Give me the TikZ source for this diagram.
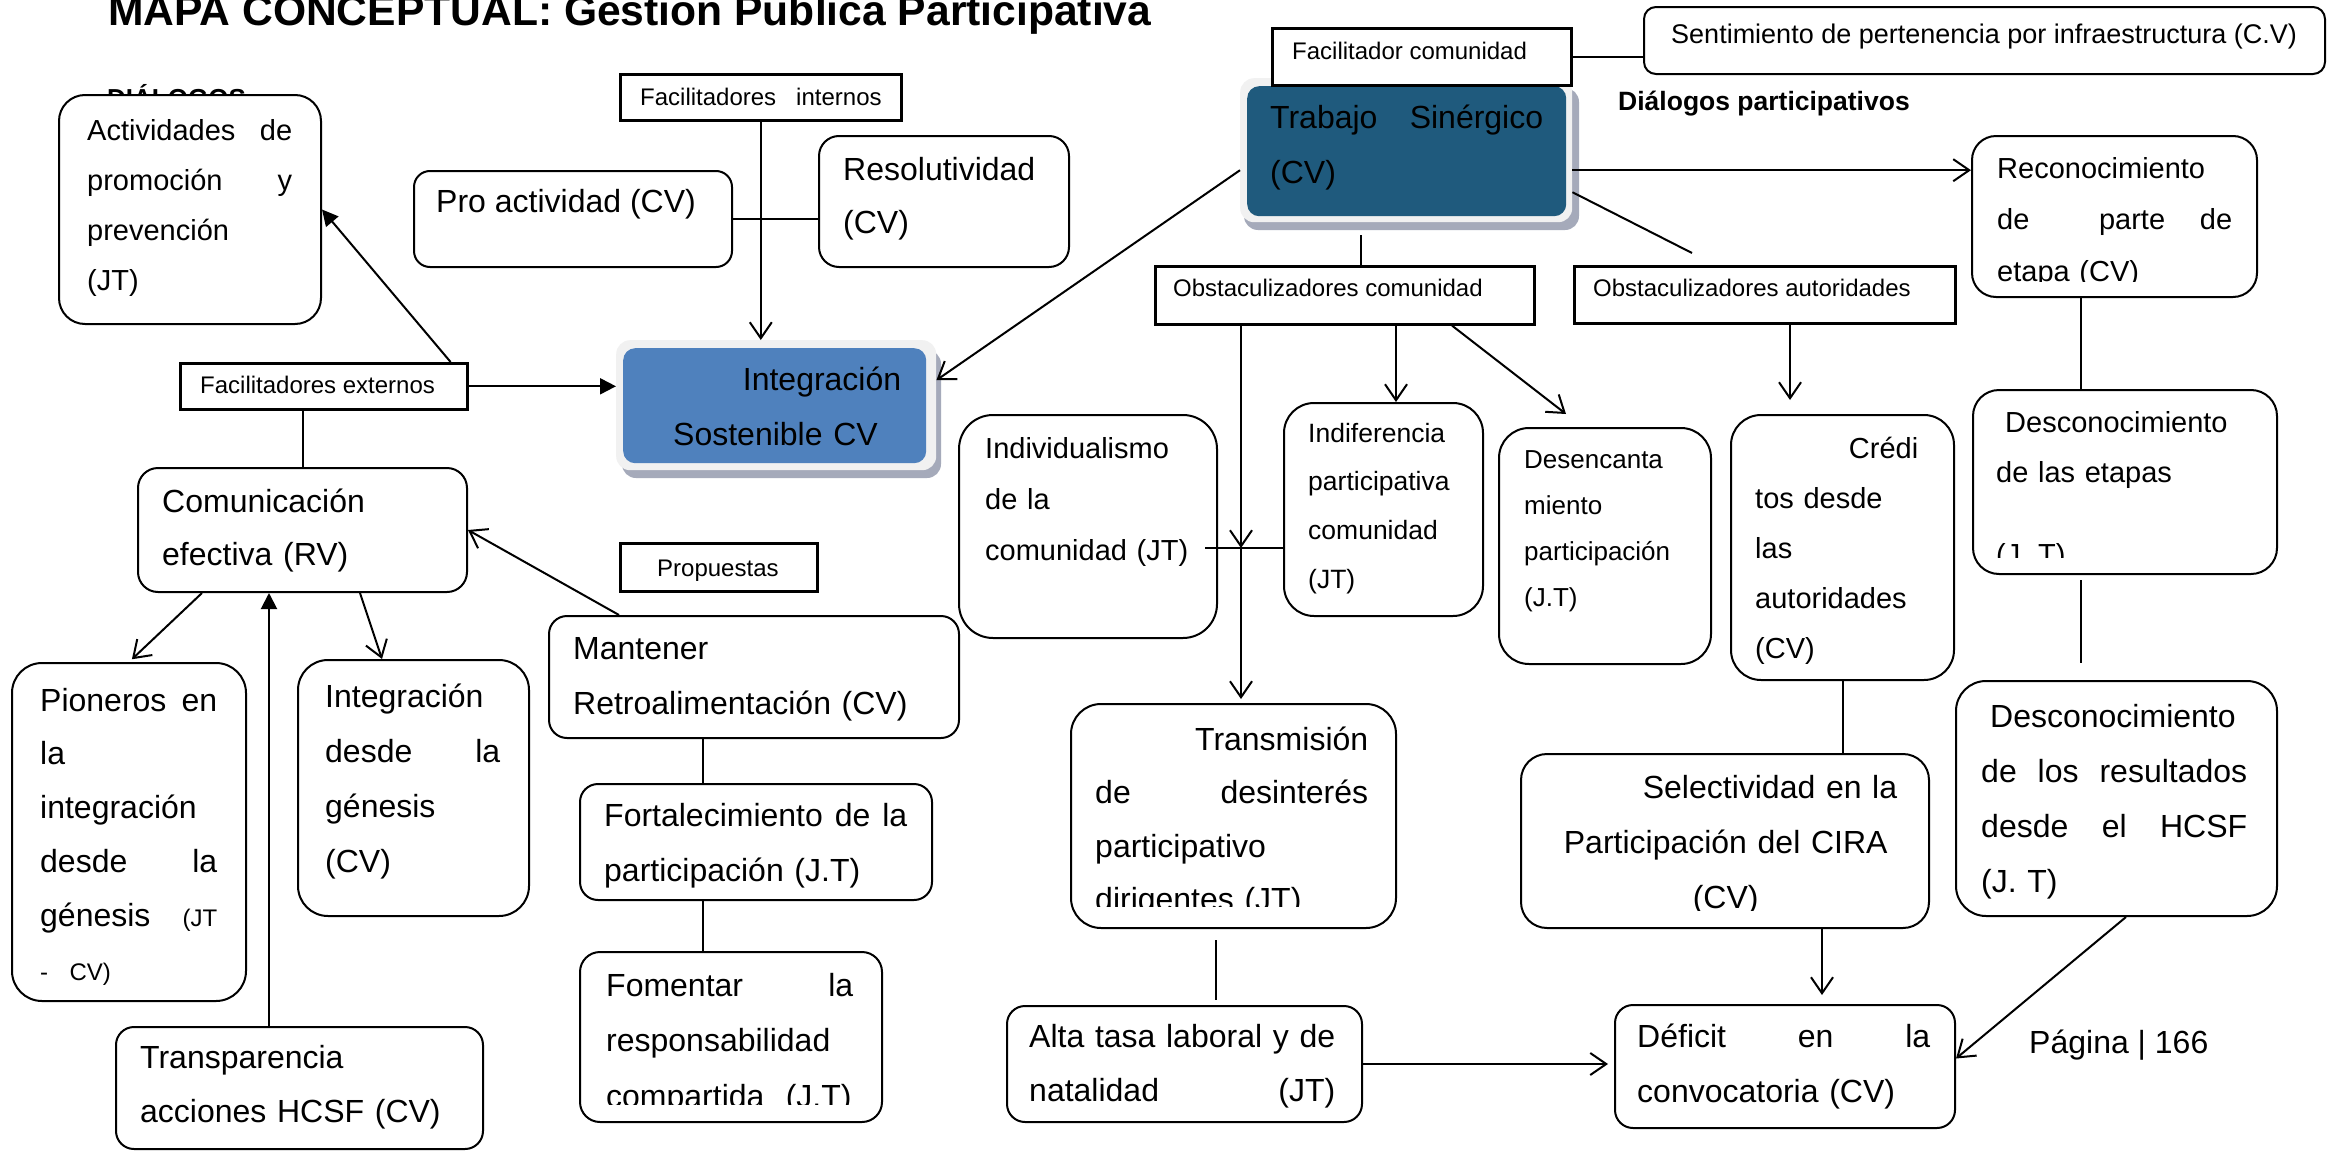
\documentclass[tikz,border=0pt]{standalone}
\usepackage{fontspec}
\setmainfont{Liberation Sans}
\usetikzlibrary{arrows.meta}

\definecolor{boxblue}{RGB}{79,129,189}
\definecolor{deepblue}{RGB}{31,90,125}
\definecolor{glowgray}{RGB}{241,241,241}
\definecolor{shadegray}{RGB}{165,170,186}

\newcommand\fs[2]{\fontsize{#1pt}{#2pt}\selectfont}

\tikzset{
  rbox/.style={draw, line width=2pt, fill=white, anchor=north west,
               inner sep=0pt, rounded corners=#1},
  rbox/.default=20pt,
  lbox/.style={draw, line width=2.6pt, fill=white, anchor=north west, inner sep=0pt},
  glow/.style={fill=glowgray, anchor=north west, inner sep=0pt, rounded corners=14pt},
  txt/.style={anchor=base west, inner sep=0pt, align=left},
  ln/.style={line width=2pt},
  oarr/.style={line width=2pt, -{Straight Barb[length=16pt,width=22pt]}},
  farr/.style={line width=2pt, -{Triangle[length=16pt,width=16pt]}},
}

\begin{document}
\begin{tikzpicture}[x=1pt, y=-1pt]
\fill[white] (0,0) rectangle (2343,1151);
\useasboundingbox (0,0) rectangle (2343,1151);

% ---------- headings ----------
\node[txt, font=\bfseries\fs{42.6}{50}] (title) at (108,25) {MAPA CONCEPTUAL: Gestion Publica Participativa};
\node[txt, font=\bfseries\fs{26}{30}] (dlg) at (107,107) {DIÁLOGOS};
\node[txt, font=\bfseries\fs{26.5}{30}] (dlgp) at (1618,110) {Diálogos participativos};
\node[txt, font=\fs{32}{36}] (page) at (2029,1053) {Página | 166};

% ---------- highlighted concepts ----------
\fill[shadegray, rounded corners=14pt] (622,350) rectangle (941,478);
\node[glow, minimum width=320pt, minimum height=130pt] (integ-g) at (616,340) {};
\node[fill=boxblue, anchor=north west, inner sep=0pt, rounded corners=12pt,
      minimum width=303pt, minimum height=115pt] (integ) at (623,348) {};

\fill[shadegray, rounded corners=14pt] (1244,88) rectangle (1579,230);
\node[glow, minimum width=332pt, minimum height=144pt] (trab-g) at (1240,78) {};
\node[fill=deepblue, anchor=north west, inner sep=0pt, rounded corners=12pt,
      minimum width=319pt, minimum height=130pt] (trab) at (1247,86) {};

% ---------- boxes ----------
\node[rbox=26pt, minimum width=262pt, minimum height=229pt] (act) at (58,94) {};
\node[rbox=16pt, minimum width=318pt, minimum height=96pt] (pro) at (413,170) {};
\node[rbox=20pt, minimum width=250pt, minimum height=131pt] (res) at (818,135) {};
\node[lbox, minimum width=281pt, minimum height=46pt] (fi) at (619,73) {};
\node[lbox, minimum width=299pt, minimum height=57pt] (fc) at (1271,27) {};
\node[rbox=12pt, minimum width=681pt, minimum height=67pt] (sent) at (1643,6) {};
\node[rbox=24pt, minimum width=285pt, minimum height=161pt] (rec) at (1971,135) {};
\node[lbox, minimum width=379pt, minimum height=58pt] (oc) at (1154,265) {};
\node[lbox, minimum width=381pt, minimum height=57pt] (oa) at (1573,265) {};
\node[rbox=34pt, minimum width=258pt, minimum height=223pt] (indiv) at (958,414) {};
\node[rbox=30pt, minimum width=199pt, minimum height=213pt] (indif) at (1283,402) {};
\node[rbox=30pt, minimum width=212pt, minimum height=236pt] (desenc) at (1498,427) {};
\node[rbox=30pt, minimum width=223pt, minimum height=265pt] (cred) at (1730,414) {};
\node[rbox=26pt, minimum width=304pt, minimum height=184pt] (desc1) at (1972,389) {};
\node[rbox=30pt, minimum width=321pt, minimum height=235pt] (desc2) at (1955,680) {};
\node[rbox=26pt, minimum width=408pt, minimum height=174pt] (sel) at (1520,753) {};
\node[rbox=18pt, minimum width=340pt, minimum height=123pt] (def) at (1614,1004) {};
\node[rbox=30pt, minimum width=325pt, minimum height=224pt] (trans) at (1070,703) {};
\node[rbox=18pt, minimum width=355pt, minimum height=116pt] (alta) at (1006,1005) {};
\node[lbox, minimum width=287pt, minimum height=46pt] (fe) at (179,362) {};
\node[rbox=20pt, minimum width=329pt, minimum height=124pt] (com) at (137,467) {};
\node[rbox=30pt, minimum width=234pt, minimum height=338pt] (pio) at (11,662) {};
\node[rbox=30pt, minimum width=231pt, minimum height=256pt] (intg) at (297,659) {};
\node[rbox=18pt, minimum width=367pt, minimum height=122pt] (transp) at (115,1026) {};
\node[lbox, minimum width=197pt, minimum height=48pt] (prop) at (619,542) {};
\node[rbox=18pt, minimum width=410pt, minimum height=122pt] (mant) at (548,615) {};
\node[rbox=18pt, minimum width=352pt, minimum height=116pt] (fort) at (579,783) {};
\node[rbox=20pt, minimum width=302pt, minimum height=170pt] (fom) at (579,951) {};

% ---------- connectors: left half ----------
\draw[farr] (fe.east) -- (fe.east -| integ-g.west);
\draw[farr] ([xshift=-18pt]fe.north east) -- (act.east);
\draw[ln] (fe.south -| com.north) -- (com.north);
\draw[oarr] ([xshift=71pt]mant.north west) -- (com.east);
\draw[oarr, shorten >=4pt] ([xshift=65pt]com.south west) -- (pio.north);
\draw[oarr] ([xshift=223pt]com.south west) -- ([xshift=85pt]intg.north west);
\coordinate (tp) at ([xshift=154pt]transp.north west);
\draw[farr] (tp) -- (tp |- com.south);
\coordinate (mf1) at ([xshift=124pt]fort.north west);
\draw[ln] (mf1) -- (mf1 |- mant.south);
\coordinate (mf2) at ([xshift=124pt]fort.south west);
\draw[ln] (mf2) -- (mf2 |- fom.north);
\draw[oarr] (fi.south) -- (fi.south |- integ-g.north);
\draw[ln] (pro.east) -- (pro.east -| res.west);

% ---------- connectors: right half ----------
\draw[oarr] ([yshift=-20pt]trab-g.west) -- ([yshift=25pt]integ-g.east);
\draw[ln] (fc.east) -- (fc.east -| sent.west);
\coordinate (tr1) at ([yshift=-20pt]trab-g.east);
\draw[oarr] (tr1) -- (tr1 -| rec.west);
\coordinate (tr2) at ([xshift=207pt]oc.north west);
\draw[ln] (tr2) -- ([yshift=-13pt]tr2 |- trab-g.south);
\draw[ln] ([yshift=-42pt]trab-g.east) -- ([xshift=119pt,yshift=12pt]oa.north west);
\coordinate (jn) at (1241,548);
\draw[oarr] (jn |- oc.south) -- (jn);
\draw[oarr, shorten >=4pt] (jn) -- (jn |- trans.north);
\draw[ln] ([xshift=-13pt]jn -| indiv.east) -- (jn -| indif.west);
\coordinate (oc2) at ([xshift=242pt]oc.south west);
\draw[oarr] (oc2) -- (oc2 |- indif.north);
\draw[oarr] ([xshift=298pt]oc.south west) -- ([xshift=68pt,yshift=13pt]desenc.north west);
\coordinate (oa1) at ([xshift=217pt]oa.south west);
\draw[oarr, shorten >=14pt] (oa1) -- (oa1 |- cred.north);
\coordinate (rc1) at ([xshift=110pt]rec.south west);
\draw[ln] (rc1) -- (rc1 |- desc1.north);
\coordinate (dc1) at ([xshift=109pt]desc1.south west);
\draw[ln, shorten <=5pt, shorten >=17pt] (dc1) -- (dc1 |- desc2.north);
\draw[ln] (cred.south) -- (cred.south |- sel.north);
\coordinate (sl1) at ([xshift=302pt]sel.south west);
\draw[oarr, shorten >=9pt] (sl1) -- (sl1 |- def.north);
\draw[oarr] ([xshift=171pt]desc2.south west) -- ([yshift=8pt]def.east);
\coordinate (ts1) at ([xshift=146pt]trans.south west);
\draw[ln, shorten <=11pt, shorten >=5pt] (ts1) -- (ts1 |- alta.north);
\draw[oarr, shorten >=6pt] (alta.east) -- (alta.east -| def.west);

% ---------- texts ----------
\node[txt, text width=205pt, font=\fs{29}{50}] (act-t) at (87,140)
  {Actividades\hfill de\\promoción\hfill y\\prevención\\(JT)};
\node[txt, font=\fs{32}{36}] (pro-t) at (436,212) {Pro actividad (CV)};
\node[txt, text width=220pt, font=\fs{32}{53}] (res-t) at (843,180) {Resolutividad\\(CV)};
\node[txt, font=\fs{24}{28}] (fi-t) at (640,105) {Facilitadores\ \ \ internos};
\node[txt, text width=228pt, font=\fs{32}{55}] (integ-t) at (673,390) {\hfill Integración\\Sostenible CV};
\node[txt, text width=273pt, font=\fs{32}{55}] (trab-t) at (1270,128) {Trabajo\hfill Sinérgico\\(CV)};
\node[txt, font=\fs{24}{28}] (fc-t) at (1292,59) {Facilitador comunidad};
\node[txt, font=\fs{27}{30}] (sent-t) at (1671,43) {Sentimiento de pertenencia por infraestructura (C.V)};
\begin{scope}
  \clip (1971,135) rectangle (2256,281);
  \node[txt, text width=235pt, font=\fs{29}{51.5}] (rec-t) at (1997,178)
    {Reconocimiento\\de\hfill\hfill parte\hfill de\\etapa (CV)};
\end{scope}
\node[txt, font=\fs{24}{28}] (oc-t) at (1173,296) {Obstaculizadores comunidad};
\node[txt, font=\fs{24}{28}] (oa-t) at (1593,296) {Obstaculizadores autoridades};
\node[txt, text width=225pt, font=\fs{29}{51}] (indiv-t) at (985,458) {Individualismo\\de la\\comunidad (JT)};
\node[txt, text width=170pt, font=\fs{26.5}{48.7}] (indif-t) at (1308,442) {Indiferencia\\participativa\\comunidad\\(JT)};
\node[txt, text width=180pt, font=\fs{26}{46.3}] (desenc-t) at (1524,468) {Desencanta\\miento\\participación\\(J.T)};
\node[txt, text width=163pt, font=\fs{29}{50}] (cred-t) at (1755,458) {\hfill Crédi\\tos desde\\las\\autoridades\\(CV)};
\begin{scope}
  \clip (1972,389) rectangle (2276,557);
  \node[txt, text width=270pt, font=\fs{29}{50}] (desc1-t) at (1996,432)
    {\hspace*{9pt}Desconocimiento\\de las etapas\\[32pt](J. T)};
\end{scope}
\node[txt, text width=266pt, font=\fs{32}{55.3}] (desc2-t) at (1981,727)
  {\hspace*{9pt}Desconocimiento\\de\hfill los\hfill resultados\\desde\hfill el\hfill HCSF\\(J. T)};
\begin{scope}
  \clip (1520,753) rectangle (1928,910);
  \node[txt, text width=343pt, align=center, font=\fs{32}{55}] (sel-t) at (1554,798)
    {\hfill Selectividad en la\\Participación del CIRA\\(CV)};
\end{scope}
\node[txt, text width=293pt, font=\fs{32}{55}] (def-t) at (1637,1047) {Déficit\hfill en\hfill la\\convocatoria (CV)};
\begin{scope}
  \clip (1070,703) rectangle (1395,906);
  \node[txt, text width=273pt, font=\fs{32}{53.5}] (trans-t) at (1095,750)
    {\hfill Transmisión\\de\hfill desinterés\\participativo\\dirigentes (JT)};
\end{scope}
\node[txt, text width=306pt, font=\fs{32}{54}] (alta-t) at (1029,1047)
  {Alta tasa laboral y de\\natalidad\hfill (JT)\hspace*{15pt}};
\node[txt, font=\fs{24}{28}] (fe-t) at (200,393) {Facilitadores externos};
\node[txt, text width=290pt, font=\fs{32}{53}] (com-t) at (162,512) {Comunicación\\efectiva (RV)};
\node[txt, text width=177pt, font=\fs{32}{53.8}] (pio-t) at (40,711)
  {Pioneros\hfill en\\la\\integración\\desde\hfill la\\génesis\hfill{\fs{24}{53.8}(JT}\\{\fs{24}{53.8}-\ \ CV)}};
\node[txt, text width=175pt, font=\fs{32}{55}] (intg-t) at (325,707) {Integración\\desde\hfill la\\génesis\\(CV)};
\node[txt, text width=330pt, font=\fs{32}{54}] (transp-t) at (140,1068) {Transparencia\\acciones HCSF (CV)};
\node[txt, font=\fs{24}{28}] (prop-t) at (657,576) {Propuestas};
\node[txt, text width=380pt, font=\fs{32}{55}] (mant-t) at (573,659) {Mantener\\Retroalimentación (CV)};
\node[txt, text width=303pt, font=\fs{32}{55}] (fort-t) at (604,826) {Fortalecimiento\hfill de\hfill la\\participación (J.T)};
\begin{scope}
  \clip (579,951) rectangle (881,1104);
  \node[txt, text width=247pt, font=\fs{32}{55.5}] (fom-t) at (606,996)
    {Fomentar\hfill la\\responsabilidad\\compartida\ \ (J.T)};
\end{scope}
\end{tikzpicture}
\end{document}
